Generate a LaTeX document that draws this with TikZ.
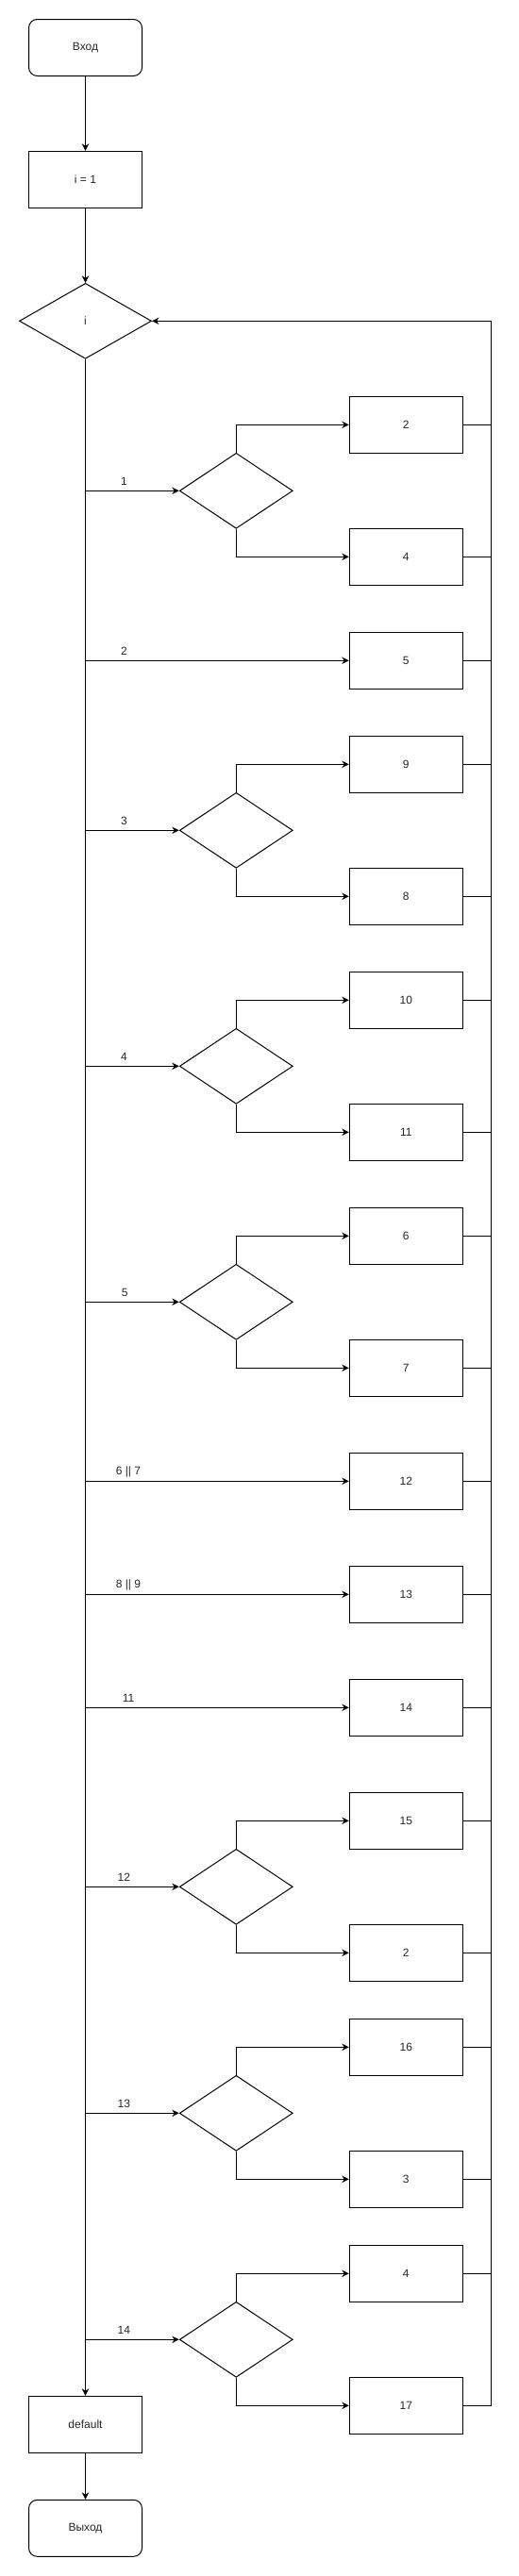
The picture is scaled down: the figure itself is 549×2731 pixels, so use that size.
\documentclass[tikz,border=0pt]{standalone}
\usepackage{fontspec}
\setmainfont{Liberation Sans}
\usetikzlibrary{arrows.meta,shapes.geometric}
\begin{document}
\begin{tikzpicture}[x=1pt,y=-1pt,
  every node/.style={font=\fontsize{12}{14}\selectfont, text=black!85},
  box/.style={draw=black, line width=1pt, fill=white, minimum width=120pt, minimum height=60pt, inner sep=0pt},
  term/.style={box, rounded corners=9pt},
  dec/.style={draw=black, line width=1pt, fill=white, diamond, minimum width=120pt, minimum height=80pt, inner sep=0pt},
  ln/.style={line width=1pt, draw=black},
  arr/.style={ln, -{Stealth[length=7.5pt,width=7.5pt,inset=2.5pt]}},
  lbl/.style={inner sep=0pt}
]
\useasboundingbox[fill=white] (0,0) rectangle (549,2731);

% main column
\node[term] (start) at (90.5,50.5) {Вход};
\node[box] (init) at (90.5,190.3) {i = 1};
\node[dec, minimum width=140pt] (sw) at (90.5,340.3) {i};
\node[box] (default) at (90.5,2570.3) {default};
\node[term] (stop) at (90.5,2680.3) {Выход};

% decisions
\node[dec] (d1) at (250.3,520.3) {};
\node[dec] (d3) at (250.3,880.3) {};
\node[dec] (d4) at (250.3,1130.3) {};
\node[dec] (d5) at (250.3,1380.3) {};
\node[dec] (d12) at (250.3,2000.3) {};
\node[dec] (d13) at (250.3,2240.3) {};
\node[dec] (d14) at (250.3,2480.3) {};

% right boxes
\node[box] (r2a) at (430.3,450.3) {2};
\node[box] (r4a) at (430.3,590.3) {4};
\node[box] (r5) at (430.3,700.3) {5};
\node[box] (r9) at (430.3,810.3) {9};
\node[box] (r8) at (430.3,950.3) {8};
\node[box] (r10) at (430.3,1060.3) {10};
\node[box] (r11) at (430.3,1200.3) {11};
\node[box] (r6) at (430.3,1310.3) {6};
\node[box] (r7) at (430.3,1450.3) {7};
\node[box] (r12) at (430.3,1570.3) {12};
\node[box] (r13) at (430.3,1690.3) {13};
\node[box] (r14) at (430.3,1810.3) {14};
\node[box] (r15) at (430.3,1930.3) {15};
\node[box] (r2b) at (430.3,2070.3) {2};
\node[box] (r16) at (430.3,2170.3) {16};
\node[box] (r3) at (430.3,2310.3) {3};
\node[box] (r4b) at (430.3,2410.3) {4};
\node[box] (r17) at (430.3,2550.3) {17};

\coordinate (R) at (520.5,340.3);

% main flow
\draw[arr] (start) -- (init);
\draw[arr] (init) -- (sw);
\draw[arr] (sw.south) -- (default.north);
\draw[arr] (default) -- (stop);

% case branches
\draw[arr] (sw.south |- d1.west) -- (d1.west);
\draw[arr] (sw.south |- r5.west) -- (r5.west);
\draw[arr] (sw.south |- d3.west) -- (d3.west);
\draw[arr] (sw.south |- d4.west) -- (d4.west);
\draw[arr] (sw.south |- d5.west) -- (d5.west);
\draw[arr] (sw.south |- r12.west) -- (r12.west);
\draw[arr] (sw.south |- r13.west) -- (r13.west);
\draw[arr] (sw.south |- r14.west) -- (r14.west);
\draw[arr] (sw.south |- d12.west) -- (d12.west);
\draw[arr] (sw.south |- d13.west) -- (d13.west);
\draw[arr] (sw.south |- d14.west) -- (d14.west);

% branch labels
\node[lbl] (l1) at (131.4,510.6) {1};
\node[lbl] (l2) at (131.4,690.6) {2};
\node[lbl] (l3) at (131.4,870.6) {3};
\node[lbl] (l4) at (131.4,1120.6) {4};
\node[lbl] (l5) at (132.2,1370.6) {5};
\node[lbl] (l67) at (136,1560.6) {6 || 7};
\node[lbl] (l89) at (136,1680.6) {8 || 9};
\node[lbl] (l11) at (136,1800.6) {11};
\node[lbl] (l12) at (131.4,1990.6) {12};
\node[lbl] (l13) at (131.4,2230.6) {13};
\node[lbl] (l14) at (131.4,2470.6) {14};

% decision outputs
\foreach \d/\u/\l in {d1/r2a/r4a, d3/r9/r8, d4/r10/r11, d5/r6/r7, d12/r15/r2b, d13/r16/r3, d14/r4b/r17}{
  \draw[arr] (\d.north) |- (\u.west);
  \draw[arr] (\d.south) |- (\l.west);
}

% returns
\foreach \n in {r2a,r4a,r5,r9,r8,r10,r11,r6,r7,r12,r13,r14,r15,r2b,r16,r3,r4b}{
  \draw[ln] (\n.east) -- (\n.east -| R);
}
\draw[arr] (r17.east) -| (R) -- (sw.east);
\end{tikzpicture}
\end{document}
